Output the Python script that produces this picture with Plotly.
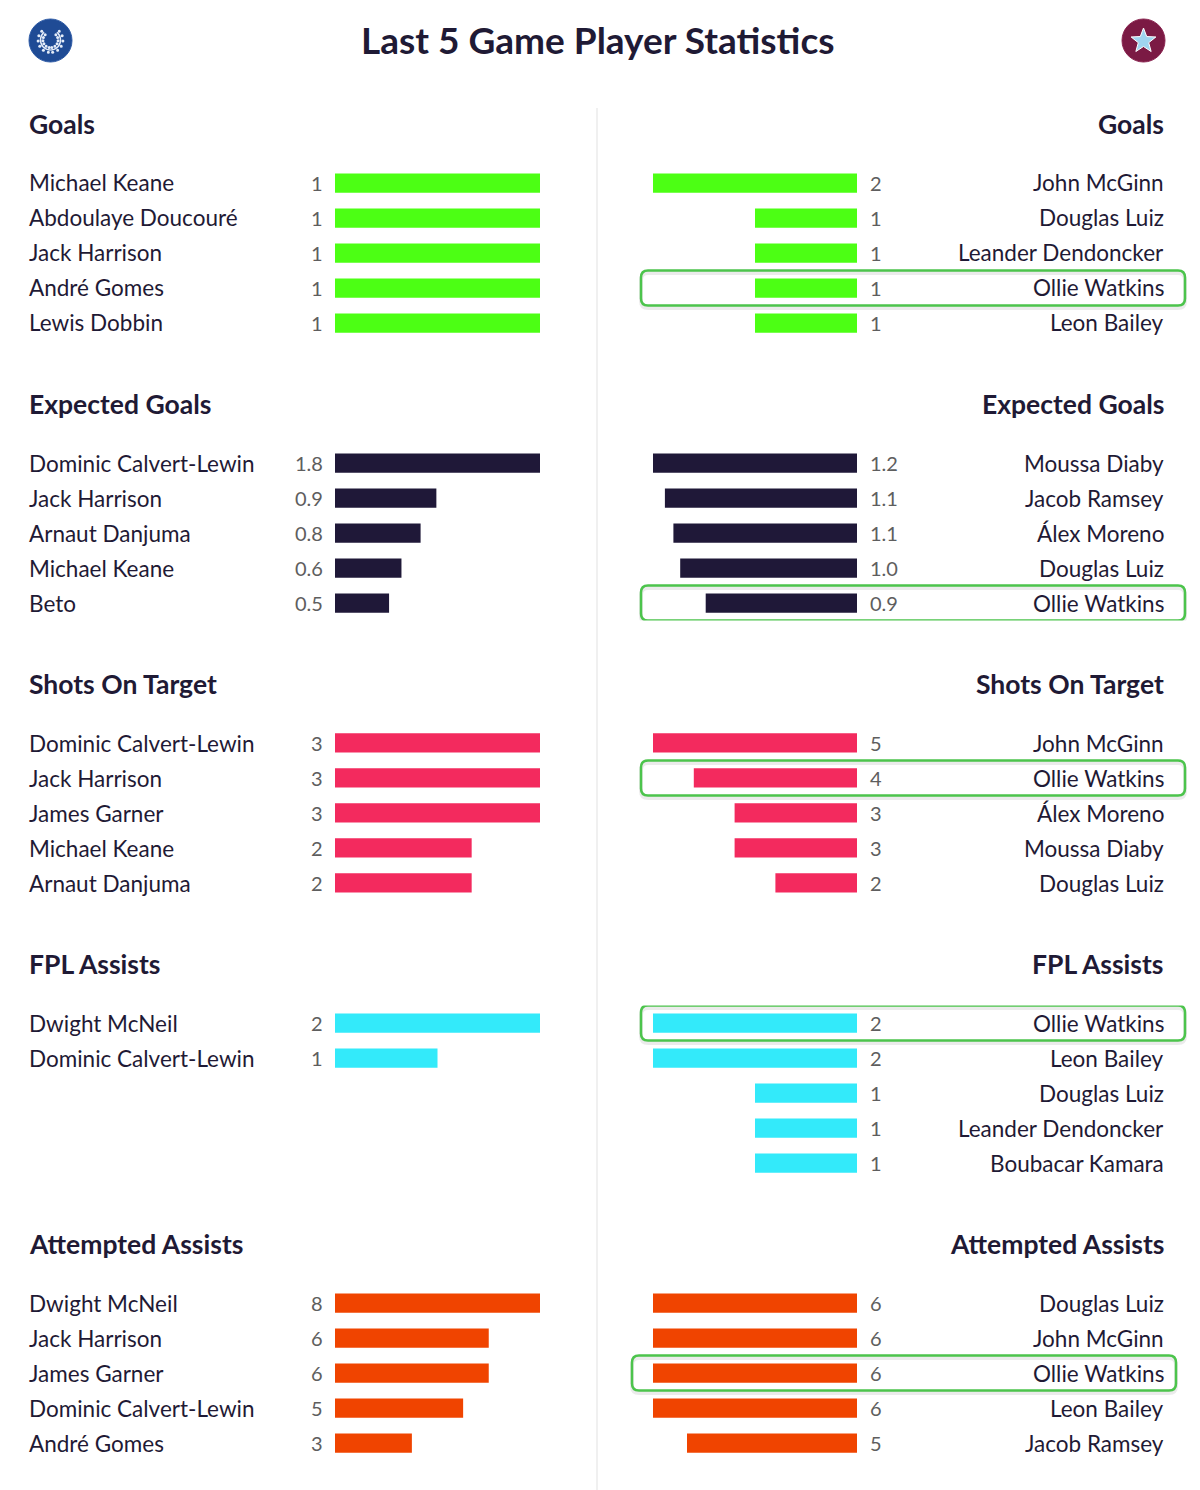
import math
import plotly.graph_objects as go

W, H = 1200, 1490

# ---------------- data ----------------
section_titles = ["Goals", "Expected Goals", "Shots On Target", "FPL Assists", "Attempted Assists"]
section_colors = ["#4cff14", "#1f1838", "#f32a5e", "#33eafa", "#f04400"]
value_formats = ["{:.0f}", "{:.1f}", "{:.0f}", "{:.0f}", "{:.0f}"]

left_goals_names = ["Michael Keane", "Abdoulaye Doucouré", "Jack Harrison", "André Gomes", "Lewis Dobbin"]
left_goals_vals = [1, 1, 1, 1, 1]
right_goals_names = ["John McGinn", "Douglas Luiz", "Leander Dendoncker", "Ollie Watkins", "Leon Bailey"]
right_goals_vals = [2, 1, 1, 1, 1]

left_xg_names = ["Dominic Calvert-Lewin", "Jack Harrison", "Arnaut Danjuma", "Michael Keane", "Beto"]
left_xg_vals = [1.82, 0.90, 0.76, 0.59, 0.48]
right_xg_names = ["Moussa Diaby", "Jacob Ramsey", "Álex Moreno", "Douglas Luiz", "Ollie Watkins"]
right_xg_vals = [1.20, 1.13, 1.08, 1.04, 0.89]

left_sot_names = ["Dominic Calvert-Lewin", "Jack Harrison", "James Garner", "Michael Keane", "Arnaut Danjuma"]
left_sot_vals = [3, 3, 3, 2, 2]
right_sot_names = ["John McGinn", "Ollie Watkins", "Álex Moreno", "Moussa Diaby", "Douglas Luiz"]
right_sot_vals = [5, 4, 3, 3, 2]

left_ast_names = ["Dwight McNeil", "Dominic Calvert-Lewin"]
left_ast_vals = [2, 1]
right_ast_names = ["Ollie Watkins", "Leon Bailey", "Douglas Luiz", "Leander Dendoncker", "Boubacar Kamara"]
right_ast_vals = [2, 2, 1, 1, 1]

left_aa_names = ["Dwight McNeil", "Jack Harrison", "James Garner", "Dominic Calvert-Lewin", "André Gomes"]
left_aa_vals = [8, 6, 6, 5, 3]
right_aa_names = ["Douglas Luiz", "John McGinn", "Ollie Watkins", "Leon Bailey", "Jacob Ramsey"]
right_aa_vals = [6, 6, 6, 6, 5]

highlight_player = "Ollie Watkins"

left_sections = [
    (left_goals_names, left_goals_vals),
    (left_xg_names, left_xg_vals),
    (left_sot_names, left_sot_vals),
    (left_ast_names, left_ast_vals),
    (left_aa_names, left_aa_vals),
]
right_sections = [
    (right_goals_names, right_goals_vals),
    (right_xg_names, right_xg_vals),
    (right_sot_names, right_sot_vals),
    (right_ast_names, right_ast_vals),
    (right_aa_names, right_aa_vals),
]

# ---------------- style / layout ----------------
FONT = "Lato"
TEXT = "#1f1a35"
GREY = "#5e5e5e"
ROW = 35.0
FIRST_ROW = 183.0
SECTION_STEP = 280.0
HEADER_OFFSET = 59.0
box_shift = [0, 0, 0, 0, -9]
NAME_SIZE = 22.5
HEAD_SIZE = 26.5
VALUE_SIZE = 20
PAD = 3  # annotation inner padding compensation


def px(x):
    return x / W


def py(y):
    return 1 - y / H


fig = go.Figure()
layout = dict(
    width=W, height=H,
    margin=dict(l=0, r=0, t=0, b=0),
    paper_bgcolor="white", plot_bgcolor="rgba(0,0,0,0)",
    showlegend=False,
    font=dict(family=FONT, color=TEXT),
)
annotations = []
shapes = []


def rounded(x0, x1, y0, y1, rx, ry):
    return (f"M {x0+rx},{y0} L {x1-rx},{y0} Q {x1},{y0} {x1},{y0+ry} "
            f"L {x1},{y1-ry} Q {x1},{y1} {x1-rx},{y1} L {x0+rx},{y1} "
            f"Q {x0},{y1} {x0},{y1-ry} L {x0},{y0+ry} Q {x0},{y0} {x0+rx},{y0} Z")


for k in range(5):
    c0 = FIRST_ROW + SECTION_STEP * k
    top = c0 - ROW / 2
    bottom = c0 + 4 * ROW + ROW / 2
    ydom = [py(bottom), py(top)]
    for side, data in enumerate([left_sections[k], right_sections[k]]):
        names, vals = data
        n = 2 * k + side + 1
        xa = "x" if n == 1 else f"x{n}"
        ya = "y" if n == 1 else f"y{n}"
        vmax = max(vals)
        if side == 0:
            xdom = [px(335), px(540)]
            xr = [0, vmax]
        else:
            xdom = [px(653), px(857)]
            xr = [vmax, 0]
        layout["xaxis" if n == 1 else f"xaxis{n}"] = dict(
            domain=xdom, range=xr, visible=False, fixedrange=True, anchor=ya)
        layout["yaxis" if n == 1 else f"yaxis{n}"] = dict(
            domain=ydom, range=[4.5, -0.5], visible=False, fixedrange=True, anchor=xa)
        idx = list(range(len(vals)))
        fig.add_trace(go.Bar(
            x=vals, y=idx, orientation="h", xaxis=xa, yaxis=ya,
            marker=dict(color=section_colors[k], line=dict(width=0)),
            width=0.55, hoverinfo="skip"))
        for i, (nm, v) in enumerate(zip(names, vals)):
            annotations.append(dict(
                xref=xa, yref=ya, x=0, y=i, text=value_formats[k].format(v),
                showarrow=False, xanchor="right" if side == 0 else "left",
                xshift=(-13 + PAD) if side == 0 else (14 - PAD), yanchor="middle",
                font=dict(family=FONT, size=VALUE_SIZE, color=GREY)))
            annotations.append(dict(
                xref="paper", yref=ya, x=px(30) if side == 0 else px(1163), y=i,
                text=nm, showarrow=False,
                xanchor="left" if side == 0 else "right", yanchor="middle",
                xshift=-PAD if side == 0 else PAD,
                font=dict(family=FONT, size=NAME_SIZE, color=TEXT)))
            if side == 1 and nm == highlight_player:
                x0 = px(641 + box_shift[k])
                x1 = px(1185 + box_shift[k])
                y0, y1 = i - 0.5, i + 0.5
                rx, ry = px(7), 7 / ROW
                sh = 2.5 / ROW
                shapes.append(dict(type="path", xref="paper", yref=ya,
                                   path=rounded(x0, x1, y0 + sh, y1 + sh, rx, ry),
                                   line=dict(color="rgba(0,0,0,0.08)", width=4), layer="below"))
                shapes.append(dict(type="path", xref="paper", yref=ya,
                                   path=rounded(x0, x1, y0, y1, rx, ry),
                                   line=dict(color="#4cc44c", width=2.5),
                                   fillcolor="rgba(0,0,0,0)", layer="above"))
    hy = py(c0 - HEADER_OFFSET)
    annotations.append(dict(xref="paper", yref="paper", x=px(30), y=hy,
                            text=section_titles[k], showarrow=False,
                            xanchor="left", yanchor="middle", xshift=-PAD,
                            font=dict(family=FONT, size=HEAD_SIZE, color=TEXT, weight=700)))
    annotations.append(dict(xref="paper", yref="paper", x=px(1163), y=hy,
                            text=section_titles[k], showarrow=False,
                            xanchor="right", yanchor="middle", xshift=PAD,
                            font=dict(family=FONT, size=HEAD_SIZE, color=TEXT, weight=700)))

# title
annotations.append(dict(xref="paper", yref="paper", x=px(598), y=py(40),
                        text="Last 5 Game Player Statistics", showarrow=False,
                        xanchor="center", yanchor="middle",
                        font=dict(family=FONT, size=37, color=TEXT, weight=700)))

# divider
shapes.append(dict(type="line", xref="paper", yref="paper",
                   x0=px(597), x1=px(597), y0=py(108), y1=py(1490),
                   line=dict(color="#ebebeb", width=1.5), layer="below"))

# left crest (blue with laurel wreath)
shapes.append(dict(type="circle", xref="paper", yref="paper",
                   x0=px(29), x1=px(72), y0=py(62), y1=py(19),
                   fillcolor="#1f4b95", line=dict(color="#2d5aa6", width=1)))
cx, cy = 50.5, 40
LEAF = "#e4ecf8"
for sgn in (-1, 1):
    pts = []
    for a in range(40, 181, 10):
        t = math.radians(a)
        pts.append((cx + sgn * 10 * math.sin(t), cy - 10 * math.cos(t)))
    d = "M " + " L ".join(f"{px(x)},{py(y)}" for x, y in pts)
    shapes.append(dict(type="path", xref="paper", yref="paper", path=d,
                       line=dict(color=LEAF, width=1.5)))
    for a in range(45, 171, 25):
        t = math.radians(a)
        lx, ly = cx + sgn * 10 * math.sin(t), cy - 10 * math.cos(t)
        for off in (-2.4, 2.4):
            ex = lx + off * math.sin(t) * sgn
            ey = ly - off * math.cos(t)
            shapes.append(dict(type="circle", xref="paper", yref="paper",
                               x0=px(ex - 1.5), x1=px(ex + 1.5), y0=py(ey + 1.5), y1=py(ey - 1.5),
                               fillcolor=LEAF, line=dict(width=0)))

# right crest (maroon with star)
shapes.append(dict(type="circle", xref="paper", yref="paper",
                   x0=px(1122), x1=px(1165), y0=py(62), y1=py(19),
                   fillcolor="#7b1a44", line=dict(color="#8a2450", width=1)))
scx, scy = 1143.5, 41
pts = []
for j in range(10):
    r = 13 if j % 2 == 0 else 5.5
    t = math.radians(90 + 36 * j)
    pts.append((scx + r * math.cos(t), scy - r * math.sin(t)))
d = "M " + " L ".join(f"{px(x)},{py(y)}" for x, y in pts) + " Z"
shapes.append(dict(type="path", xref="paper", yref="paper", path=d,
                   fillcolor="#9fd4f0", line=dict(color="#ffffff", width=1)))

layout["annotations"] = annotations
layout["shapes"] = shapes
fig.update_layout(**layout)
fig.write_html("out.html", config={"displayModeBar": False},
               post_script="document.body.style.margin='0';")
